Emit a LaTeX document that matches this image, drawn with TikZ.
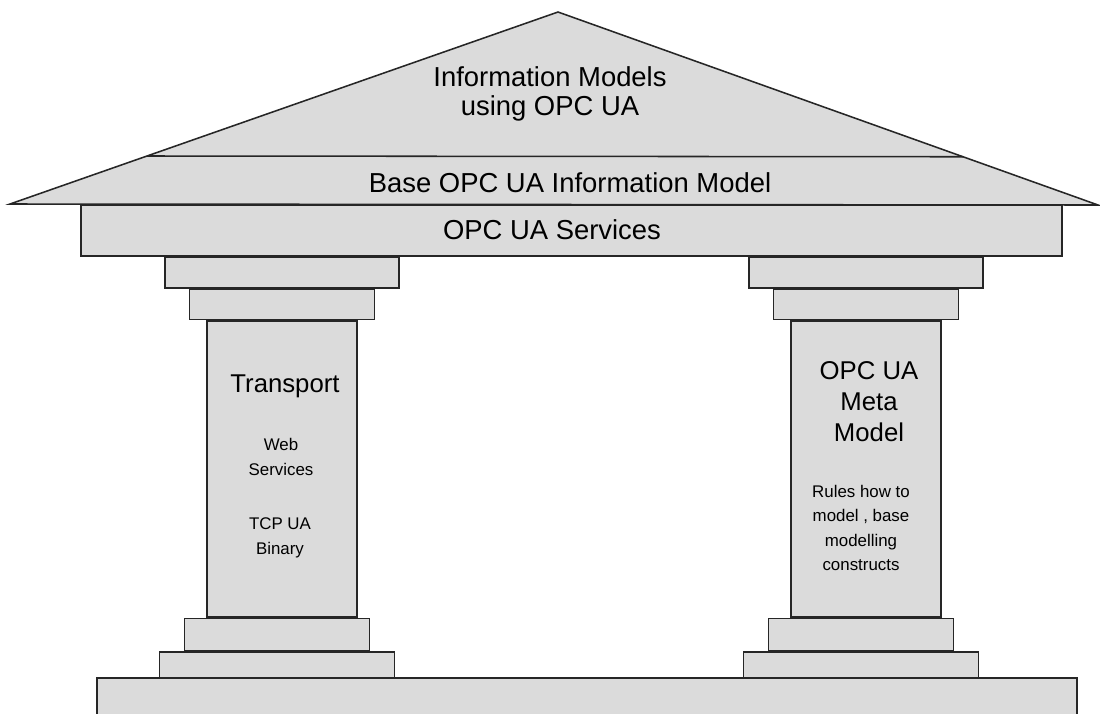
\documentclass[tikz,border=0pt]{standalone}
\usepackage{fontspec}
\setmainfont{Liberation Sans}
\usetikzlibrary{positioning, calc}

\begin{document}
\begin{tikzpicture}[
  x=0.025cm, y=-0.025cm,
  every node/.style={font=\fontsize{19.5}{21}\selectfont},
  slab/.style  = {draw=black!85, fill=black!14, line width=1.1pt, inner sep=0pt, minimum height=0.775cm},
  shaft/.style = {slab, minimum width=3.75cm, minimum height=7.4cm},
  roof/.style  = {draw=black!85, fill=black!14, line width=1.1pt},
  big/.style   = {align=center, font=\fontsize{18.3}{22}\selectfont},
  small/.style = {align=center, font=\fontsize{12}{17.5}\selectfont},
]
  \clip (0,0) rectangle (1100,713);
  % roof
  \coordinate (eaveL) at (10,204);
  \coordinate (apex)  at (558,12);
  \coordinate (eaveR) at (1098,205);
  \draw[roof] (eaveL) -- (apex) -- (eaveR) -- cycle;
  \draw[roof] ($(eaveL)!0.25!(apex)$) -- ($(eaveR)!0.25!(apex)$);
  \node[slab, minimum width=24.525cm, minimum height=1.275cm] (services) at (571.5,230.5) {};
  % two pillars
  \foreach \s/\x in {L/282, R/866} {
    \node[slab, anchor=north, minimum width=5.85cm] (cap\s1) at (\x,256) {};
    \node[slab, minimum width=4.625cm, minimum height=0.75cm, below=0pt of cap\s1] (cap\s2) {};
    \node[shaft, below=0pt of cap\s2] (shaft\s) {};
    \node[slab, minimum width=4.625cm, minimum height=0.8cm, below=0pt of shaft\s, xshift=-0.125cm] (base\s1) {};
    \node[slab, minimum width=5.875cm, minimum height=0.8cm, below=0pt of base\s1] (base\s2) {};
  }
  \node[slab, anchor=north, minimum width=24.5cm, minimum height=1.2cm] (plinth) at (587,677) {};
  % texts
  \node[align=center] (infoTxt) at (550,94) {Information Models\\using OPC UA};
  \node (baseTxt) at (570,183) {Base OPC UA Information Model};
  \node (servTxt) at (552,230) {OPC UA Services};
  \node[big]   (transport) at (285,386) {Transport};
  \node[small] (webTxt)    at (281,457) {Web\\Services};
  \node[small] (tcpTxt)    at (280,538) {TCP UA\\Binary};
  \node[big]   (metaTxt)   at (869,402) {OPC UA\\Meta\\Model};
  \node[small] (rulesTxt)  at (861,528) {Rules how to\\model , base\\modelling\\constructs};
\end{tikzpicture}
\end{document}
